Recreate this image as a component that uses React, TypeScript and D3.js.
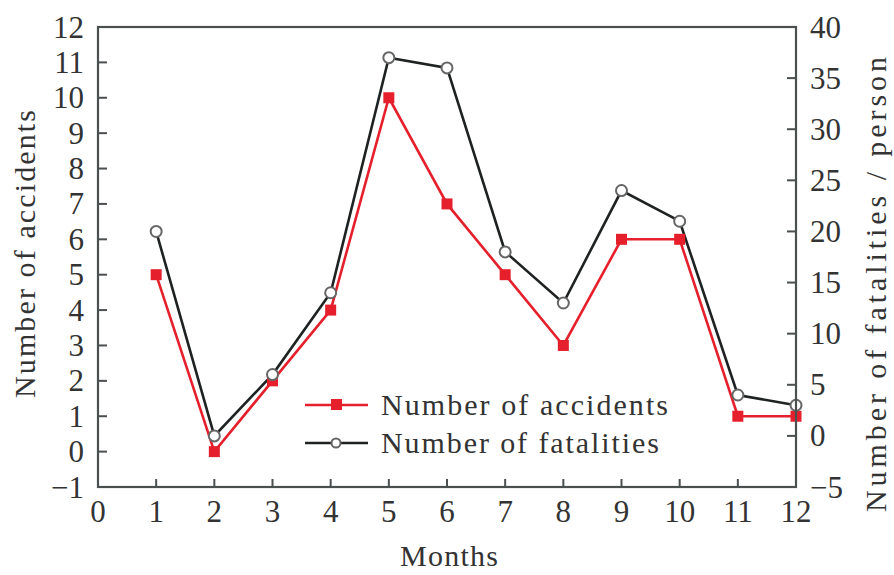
import React from "react";
import * as d3 from "d3";

const months = [1, 2, 3, 4, 5, 6, 7, 8, 9, 10, 11, 12];
const accidents = [5, 0, 2, 4, 10, 7, 5, 3, 6, 6, 1, 1];
const fatalities = [20, 0, 6, 14, 37, 36, 18, 13, 24, 21, 4, 3];
const xTicks = [0, 1, 2, 3, 4, 5, 6, 7, 8, 9, 10, 11, 12];
const leftTicks = [-1, 0, 1, 2, 3, 4, 5, 6, 7, 8, 9, 10, 11, 12];
const rightTicks = [-5, 0, 5, 10, 15, 20, 25, 30, 35, 40];

const W = 894, H = 575;
const L = 98, R = 796, T = 27, B = 487;
const RED = "#e5202c";
const AX = "#4a4f4f";
const FONT = "Times New Roman, Liberation Serif, Tinos, DejaVu Serif, serif";
const TXT = "#333333";

export default function App() {
  const x = d3.scaleLinear().domain([0, 12]).range([L, R]);
  const yL = d3.scaleLinear().domain([-1, 12]).range([B, T]);
  const yR = d3.scaleLinear().domain([-5, 40]).range([B, T]);

  const lineA = d3.line<number>().x((_, i) => x(months[i])).y((d) => yL(d));
  const lineF = d3.line<number>().x((_, i) => x(months[i])).y((d) => yR(d));

  return (
    <svg width={W} height={H} style={{ position: "absolute", left: 0, top: 0, background: "#fff", fontFamily: FONT }}>
      {/* data lines */}
      <path d={lineF(fatalities) || ""} fill="none" stroke="#1e2222" strokeWidth={2.6} />
      <path d={lineA(accidents) || ""} fill="none" stroke={RED} strokeWidth={2.6} />
      {accidents.map((d, i) => (
        <rect key={"a" + i} x={x(months[i]) - 5.5} y={yL(d) - 5.5} width={11} height={11} fill={RED} />
      ))}
      {fatalities.map((d, i) => (
        <circle key={"f" + i} cx={x(months[i])} cy={yR(d)} r={5.5} fill="#fff" stroke="#666" strokeWidth={2} />
      ))}

      {/* frame */}
      <rect x={L} y={T} width={R - L} height={B - T} fill="none" stroke={AX} strokeWidth={2.2} />

      {/* ticks */}
      {xTicks.slice(1, -1).map((t) => (
        <line key={"xt" + t} x1={x(t)} x2={x(t)} y1={B} y2={B - 8} stroke={AX} strokeWidth={2} />
      ))}
      {leftTicks.slice(1, -1).map((t) => (
        <line key={"lt" + t} x1={L} x2={L + 9} y1={yL(t)} y2={yL(t)} stroke={AX} strokeWidth={2} />
      ))}
      {rightTicks.slice(1, -1).map((t) => (
        <line key={"rt" + t} x1={R} x2={R - 9} y1={yR(t)} y2={yR(t)} stroke={AX} strokeWidth={2} />
      ))}

      {/* tick labels */}
      <g style={{ fontFamily: FONT, fontSize: 31 }} fill={TXT}>
        {xTicks.map((t) => (
          <text key={"xl" + t} x={x(t)} y={522} textAnchor="middle">{t}</text>
        ))}
        {leftTicks.map((t) => (
          <text key={"ll" + t} x={84} y={yL(t)} dy="0.34em" textAnchor="end">
            {t < 0 ? "\u2212" + Math.abs(t) : t}
          </text>
        ))}
        {rightTicks.map((t) => (
          <text key={"rl" + t} x={810} y={yR(t)} dy="0.34em" textAnchor="start">
            {t < 0 ? "\u2212" + Math.abs(t) : t}
          </text>
        ))}
      </g>

      {/* axis titles */}
      <g style={{ fontFamily: FONT, fontSize: 30 }} fill={TXT}>
        <text x={400} y={566} textLength={98} lengthAdjust="spacing">Months</text>
        <text transform={`translate(35,398) rotate(-90)`} textLength={288} lengthAdjust="spacing">Number of accidents</text>
        <text transform={`translate(886,512) rotate(-90)`} textLength={455} lengthAdjust="spacing">Number of fatalities / person</text>
      </g>

      {/* legend */}
      <g>
        <line x1={305} x2={368} y1={405} y2={405} stroke={RED} strokeWidth={2.6} />
        <rect x={331} y={399} width={11} height={11} fill={RED} />
        <line x1={305} x2={368} y1={443} y2={443} stroke="#1e2222" strokeWidth={2.6} />
        <circle cx={336} cy={443} r={4.5} fill="#fff" stroke="#666" strokeWidth={2} />
        <g style={{ fontFamily: FONT, fontSize: 30 }} fill={TXT}>
          <text x={381} y={415} textLength={287} lengthAdjust="spacing">Number of accidents</text>
          <text x={381} y={453} textLength={278} lengthAdjust="spacing">Number of fatalities</text>
        </g>
      </g>
    </svg>
  );
}
